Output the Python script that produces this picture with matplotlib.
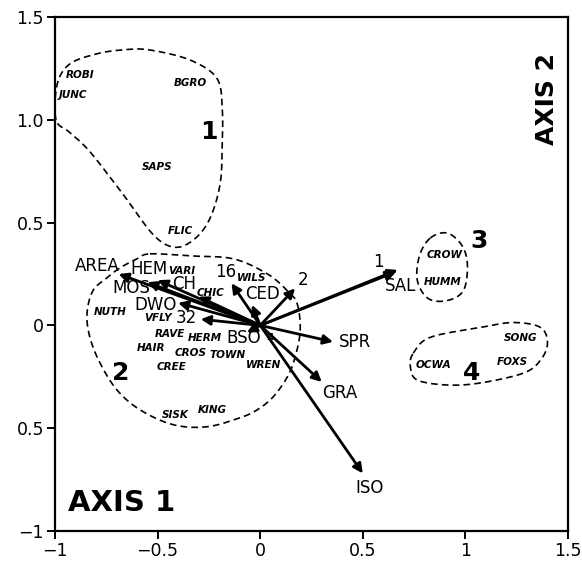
import numpy as np
import matplotlib
matplotlib.use("Agg")
import matplotlib.pyplot as plt
from matplotlib.ticker import FixedLocator, FixedFormatter

# ---------------- data ----------------
# environmental vectors (tips, in ordination units)
vec_names = ["AREA", "HEM", "MOS", "CH", "DWO", "32", "16", "CED", "2", "1", "SAL", "SPR", "GRA", "ISO", "BSO"]
vec_x = [-0.69, -0.50, -0.55, -0.30, -0.40, -0.29, -0.14, -0.04, 0.17, 0.67, 0.66, 0.355, 0.30, 0.50, -0.065]
vec_y = [0.25, 0.22, 0.21, 0.14, 0.11, 0.03, 0.205, 0.10, 0.18, 0.27, 0.26, -0.08, -0.275, -0.72, -0.035]
# label anchor positions for the vectors
vec_lab_x = [-0.795, -0.54, -0.63, -0.37, -0.51, -0.36, -0.17, 0.01, 0.21, 0.575, 0.685, 0.385, 0.39, 0.535, -0.08]
vec_lab_y = [0.29, 0.275, 0.18, 0.20, 0.10, 0.035, 0.26, 0.155, 0.22, 0.31, 0.19, -0.08, -0.33, -0.79, -0.06]

# species scores
sp_names = ["ROBI", "JUNC", "BGRO", "SAPS", "FLIC", "VARI", "WILS", "CHIC", "NUTH", "VFLY",
            "RAVE", "HERM", "HAIR", "CROS", "TOWN", "CREE", "WREN", "SISK", "KING", "A",
            "CROW", "HUMM", "SONG", "FOXS", "OCWA"]
sp_x = [-0.88, -0.91, -0.34, -0.50, -0.39, -0.38, -0.04, -0.24, -0.73, -0.50,
        -0.44, -0.27, -0.53, -0.34, -0.16, -0.43, 0.015, -0.415, -0.235, 0.05,
        0.90, 0.89, 1.27, 1.23, 0.845]
sp_y = [1.22, 1.12, 1.18, 0.77, 0.46, 0.265, 0.23, 0.16, 0.063, 0.034,
        -0.04, -0.06, -0.11, -0.135, -0.145, -0.20, -0.195, -0.435, -0.41, -0.06,
        0.34, 0.21, -0.06, -0.18, -0.195]

# group labels
grp_names = ["1", "2", "3", "4"]
grp_x = [-0.25, -0.68, 1.065, 1.03]
grp_y = [0.94, -0.23, 0.41, -0.23]

# group envelopes (outline vertices)
env1_x = [-0.995, -0.99, -0.93, -0.80, -0.67, -0.54, -0.34, -0.21, -0.185, -0.185, -0.195, -0.245, -0.32, -0.415, -0.52, -0.67, -0.83, -0.93]
env1_y = [1.00, 1.17, 1.27, 1.32, 1.34, 1.34, 1.29, 1.20, 1.05, 0.89, 0.69, 0.52, 0.42, 0.38, 0.44, 0.64, 0.845, 0.94]
env2_x = [-0.537, -0.341, -0.132, 0.034, 0.132, 0.18, 0.195, 0.17, 0.132, 0.063, -0.015, -0.098, -0.259,
          -0.424, -0.585, -0.698, -0.78, -0.83, -0.844, -0.815, -0.746, -0.683, -0.60]
env2_y = [0.348, 0.338, 0.324, 0.251, 0.169, 0.106, -0.024, -0.155, -0.251, -0.348, -0.411, -0.449, -0.493,
          -0.483, -0.411, -0.314, -0.184, -0.058, 0.058, 0.169, 0.232, 0.28, 0.324]
env3_x = [0.829, 0.912, 0.985, 1.01, 0.99, 0.912, 0.82, 0.766, 0.776]
env3_y = [0.425, 0.449, 0.386, 0.29, 0.169, 0.121, 0.13, 0.217, 0.338]
env4_x = [0.746, 0.829, 1.073, 1.234, 1.366, 1.40, 1.366, 1.283, 1.073, 0.912, 0.766, 0.732]
env4_y = [-0.135, -0.058, -0.01, 0.014, -0.01, -0.087, -0.169, -0.232, -0.28, -0.29, -0.266, -0.203]

x_ticks = [-1, -0.5, 0, 0.5, 1, 1.5]
x_ticklabels = ["\u22121", "\u22120.5", "0", "0.5", "1", "1.5"]
y_ticks = [-1, -0.5, 0, 0.5, 1.0, 1.5]
y_ticklabels = ["\u22121", "0.5", "0", "0.5", "1.0", "1.5"]


def closed_spline(xs, ys, n=20):
    P = np.column_stack([xs, ys])
    m = len(P)
    out = []
    t = np.linspace(0, 1, n, endpoint=False)[:, None]
    for i in range(m):
        p0, p1, p2, p3 = P[(i - 1) % m], P[i], P[(i + 1) % m], P[(i + 2) % m]
        seg = 0.5 * ((2 * p1) + (-p0 + p2) * t + (2 * p0 - 5 * p1 + 4 * p2 - p3) * t ** 2
                     + (-p0 + 3 * p1 - 3 * p2 + p3) * t ** 3)
        out.append(seg)
    out = np.vstack(out + [P[:1]])
    return out[:, 0], out[:, 1]


fig = plt.figure(figsize=(5.82, 5.62), dpi=100)
ax = fig.add_axes([55 / 582, (562 - 531) / 562, 513 / 582, 514 / 562])
ax.set_xlim(-1, 1.5)
ax.set_ylim(-1, 1.5)

for s in ax.spines.values():
    s.set_linewidth(1.6)
ax.tick_params(direction="out", length=6, width=1.4, labelsize=12.5, pad=2)
ax.xaxis.set_major_locator(FixedLocator(x_ticks))
ax.xaxis.set_major_formatter(FixedFormatter(x_ticklabels))
ax.yaxis.set_major_locator(FixedLocator(y_ticks))
ax.yaxis.set_major_formatter(FixedFormatter(y_ticklabels))

# envelopes
for ex, ey in [(env1_x, env1_y), (env2_x, env2_y), (env3_x, env3_y), (env4_x, env4_y)]:
    sx, sy = closed_spline(ex, ey)
    ax.plot(sx, sy, color="black", lw=1.2, dashes=(4, 2.5), clip_on=False)

# vectors
lab_family = ["Liberation Sans Narrow", "DejaVu Sans"]
for name, vx, vy, lx, ly in zip(vec_names, vec_x, vec_y, vec_lab_x, vec_lab_y):
    ax.annotate("", xy=(vx, vy), xytext=(0, 0),
                arrowprops=dict(arrowstyle="-|>", color="black", lw=2.0,
                                mutation_scale=14, shrinkA=0, shrinkB=0))
    ha = "left" if name == "SPR" else "center"
    ax.text(lx, ly, name, fontsize=12, ha=ha, va="center", color="black",
            family=lab_family)

# species
for name, x, y in zip(sp_names, sp_x, sp_y):
    fs = 6 if name == "A" else 7.5
    ax.text(x, y, name, fontsize=fs, style="italic", fontweight="bold",
            ha="center", va="center", color="black", family="DejaVu Sans")

# group numbers
for name, x, y in zip(grp_names, grp_x, grp_y):
    ax.text(x, y, name, fontsize=18, fontweight="bold", ha="center", va="center")

ax.text(-0.936, -0.864, "AXIS 1", fontsize=21, fontweight="bold", ha="left", va="center")
ax.text(1.40, 1.10, "AXIS 2", fontsize=18, fontweight="bold", ha="center", va="center",
        rotation=90)

fig.savefig("out.png", dpi=100)
